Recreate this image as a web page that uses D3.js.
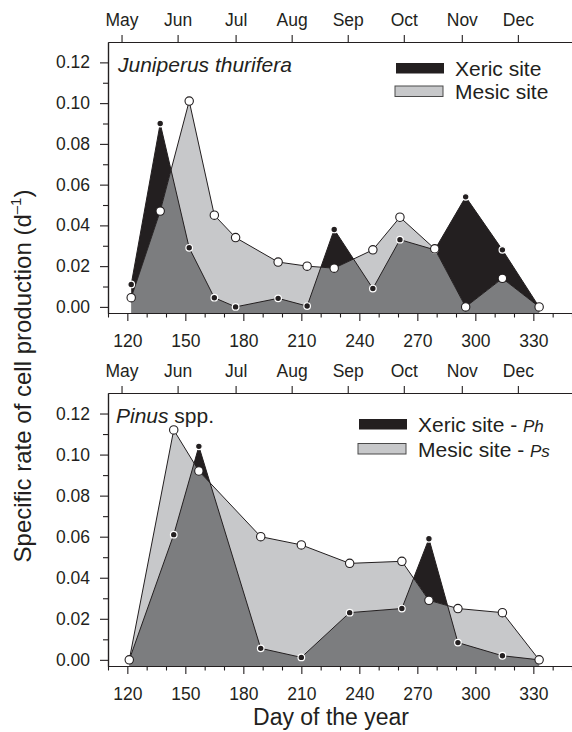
<!DOCTYPE html>
<html><head><meta charset="utf-8">
<script src="https://cdn.jsdelivr.net/npm/d3@7"></script>
<style>
body{margin:0;background:#fff}
svg text{font-family:"Liberation Sans",Arial,Helvetica,sans-serif;fill:#231f20}
</style>
</head><body>
<svg id="chart" width="572" height="732"></svg>
<script>
// ---------------- data ----------------
const juniperusDays  = [122, 137, 152, 165, 176, 198, 213, 227, 247, 261, 279, 295, 314, 333];
const juniperusXeric = [0.011, 0.090, 0.029, 0.0045, 0.000, 0.0042, 0.0004, 0.038, 0.009, 0.033, 0.028, 0.054, 0.028, 0.000];
const juniperusMesic = [0.0045, 0.047, 0.101, 0.045, 0.034, 0.022, 0.020, 0.019, 0.028, 0.044, 0.0285, 0.000, 0.014, 0.000];

const pinusDays  = [121, 144, 157, 189, 210, 235, 262, 276, 291, 314, 333];
const pinusXeric = [0.000, 0.061, 0.104, 0.0056, 0.0012, 0.023, 0.025, 0.059, 0.0084, 0.002, 0.000];
const pinusMesic = [0.000, 0.112, 0.092, 0.060, 0.056, 0.047, 0.048, 0.029, 0.025, 0.023, 0.000];

const dayTicks      = [120, 150, 180, 210, 240, 270, 300, 330];
const dayMinorTicks = [110, 130, 140, 160, 170, 190, 200, 220, 230, 250, 260, 280, 290, 310, 320, 340, 350];
const monthLabels   = ["May", "Jun", "Jul", "Aug", "Sep", "Oct", "Nov", "Dec"];
const monthTickDays = [117, 146, 176, 205, 234, 263, 293, 322];
const yTicks        = [0, 0.02, 0.04, 0.06, 0.08, 0.10, 0.12];
const yMinorTicks   = [0.01, 0.03, 0.05, 0.07, 0.09, 0.11];

// ---------------- styles ----------------
const INK = "#231f20", LIGHT = "#c7c8ca", MID = "#7c7d7f";
const FONT = '"Liberation Sans",Arial,Helvetica,sans-serif';
const TICK_FS = 17.5;

const svg = d3.select("#chart");
const x = d3.scaleLinear().domain([110, 350]).range([108, 572]);

function styleAxis(g, size) {
  g.attr("font-family", FONT).attr("font-size", size);
  g.selectAll("path.domain").attr("stroke", INK).attr("stroke-width", 1.2);
  g.selectAll("line").attr("stroke", INK).attr("stroke-width", 1.1);
  g.selectAll("text").attr("fill", INK);
}

function drawPanel(cfg) {
  const y = d3.scaleLinear().domain([-0.003, 0.13]).range([cfg.bottom, cfg.top]);
  const g = svg.append("g");
  const pts = cfg.days.map((d, i) => ({ d, xe: cfg.xeric[i], me: cfg.mesic[i] }));

  const areaX = d3.area().x(p => x(p.d)).y0(y(-0.003)).y1(p => y(p.xe));
  const areaM = d3.area().x(p => x(p.d)).y0(y(-0.003)).y1(p => y(p.me));
  const lineX = d3.line().x(p => x(p.d)).y(p => y(p.xe));
  const lineM = d3.line().x(p => x(p.d)).y(p => y(p.me));

  g.append("clipPath").attr("id", cfg.id + "-clip")
    .append("path").attr("d", areaX(pts));

  g.append("path").attr("d", areaX(pts)).attr("fill", INK);
  g.append("path").attr("d", areaM(pts)).attr("fill", LIGHT);
  g.append("path").attr("d", areaM(pts)).attr("fill", MID)
    .attr("clip-path", `url(#${cfg.id}-clip)`);

  g.append("path").attr("d", lineX(pts)).attr("fill", "none").attr("stroke", INK).attr("stroke-width", 1);
  g.append("path").attr("d", lineM(pts)).attr("fill", "none").attr("stroke", INK).attr("stroke-width", 1);

  // axes
  const yMin = g.append("g").attr("transform", `translate(108,0)`)
    .call(d3.axisLeft(y).tickValues(yMinorTicks).tickSize(5).tickSizeOuter(0).tickFormat(""));
  styleAxis(yMin, TICK_FS);
  const yAx = g.append("g").attr("transform", `translate(108,0)`)
    .call(d3.axisLeft(y).tickValues(yTicks).tickSize(8).tickSizeOuter(0).tickPadding(10).tickFormat(d3.format(".2f")));
  styleAxis(yAx, TICK_FS);

  const xMin = g.append("g").attr("transform", `translate(0,${cfg.bottom})`)
    .call(d3.axisBottom(x).tickValues(dayMinorTicks).tickSize(4.5).tickSizeOuter(0).tickFormat(""));
  styleAxis(xMin, TICK_FS);
  const xAx = g.append("g").attr("transform", `translate(0,${cfg.bottom})`)
    .call(d3.axisBottom(x).tickValues(dayTicks).tickSize(8).tickSizeOuter(0).tickPadding(14).tickFormat(d3.format("d")));
  styleAxis(xAx, TICK_FS);

  const mAx = g.append("g").attr("transform", `translate(0,${cfg.top})`)
    .call(d3.axisTop(x).tickValues(monthTickDays).tickSize(7).tickSizeOuter(0).tickPadding(9)
      .tickFormat((d, i) => monthLabels[i]));
  styleAxis(mAx, TICK_FS);

  // markers
  g.selectAll(".mx").data(pts).join("circle")
    .attr("cx", p => x(p.d)).attr("cy", p => y(p.xe)).attr("r", 3.3)
    .attr("fill", INK).attr("stroke", "#fff").attr("stroke-width", 1.2);
  g.selectAll(".mm").data(pts).join("circle")
    .attr("cx", p => x(p.d)).attr("cy", p => y(p.me)).attr("r", 4.2)
    .attr("fill", "#fff").attr("stroke", INK).attr("stroke-width", 1.1);

  // title
  const t = g.append("text").attr("x", cfg.titleX).attr("y", cfg.top + 30).attr("font-size", 21);
  cfg.title.forEach(([s, it]) => t.append("tspan").text(s).attr("font-style", it ? "italic" : "normal"));

  // legend
  const L = cfg.legend;
  g.append("rect").attr("x", L.x).attr("y", L.y).attr("width", 48).attr("height", 10.5).attr("fill", INK);
  g.append("rect").attr("x", L.x - 1).attr("y", L.y + L.dy - 0.5).attr("width", 48).attr("height", 10.5)
    .attr("fill", LIGHT).attr("stroke", "#4a4a4a").attr("stroke-width", 1);
  L.labels.forEach((lab, i) => {
    const tt = g.append("text").attr("x", L.tx).attr("y", L.y + 12.5 + i * L.dy).attr("font-size", 21);
    tt.append("tspan").text(lab[0]);
    if (lab[1]) tt.append("tspan").text(lab[1]).attr("font-style", "italic").attr("font-size", 17);
  });
}

drawPanel({
  id: "jun", top: 42, bottom: 313,
  days: juniperusDays, xeric: juniperusXeric, mesic: juniperusMesic,
  title: [["Juniperus thurifera", true]], titleX: 118,
  legend: { x: 396, y: 63, dy: 23.5, tx: 455, labels: [["Xeric site"], ["Mesic site"]] }
});

drawPanel({
  id: "pin", top: 393, bottom: 666,
  days: pinusDays, xeric: pinusXeric, mesic: pinusMesic,
  title: [["Pinus", true], [" spp.", false]], titleX: 116,
  legend: { x: 359, y: 419, dy: 25, tx: 418, labels: [["Xeric site - ", "Ph"], ["Mesic site - ", "Ps"]] }
});

// axis titles
svg.append("text").attr("x", 331).attr("y", 725).attr("text-anchor", "middle")
  .attr("font-size", 23).text("Day of the year");

const yl = svg.append("text").attr("transform", "translate(31,376) rotate(-90)")
  .attr("text-anchor", "middle").attr("font-size", 24);
yl.append("tspan").text("Specific rate of cell production (d");
yl.append("tspan").text("\u20131").attr("font-size", 15).attr("dy", -10);
yl.append("tspan").text(")").attr("dy", 10);
</script>
</body></html>
